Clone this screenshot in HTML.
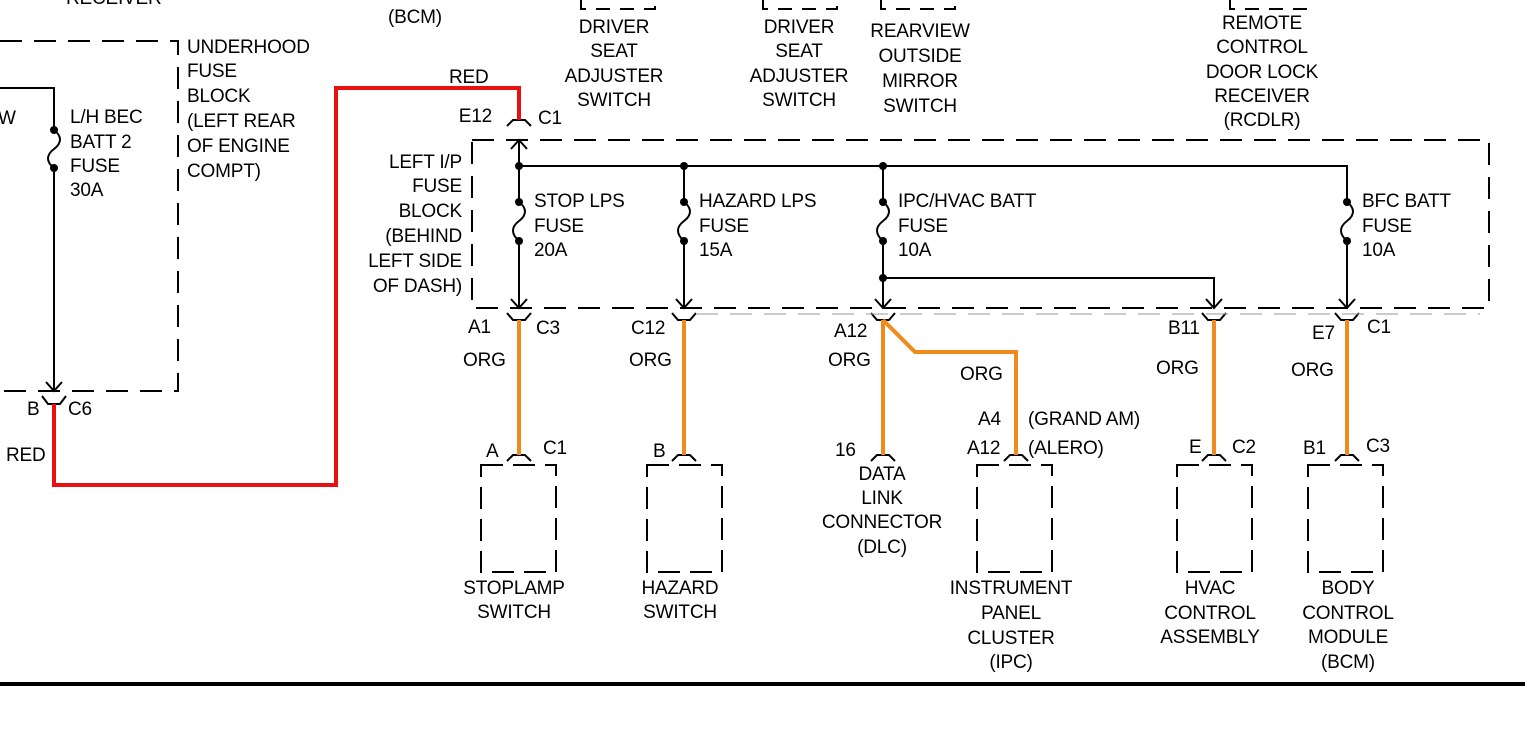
<!DOCTYPE html>
<html><head><meta charset="utf-8"><style>
html,body{margin:0;padding:0;background:#fff;}
svg{display:block;}
text{font-family:"Liberation Sans",Arial,sans-serif;font-size:19px;fill:#000;letter-spacing:-0.2px;}
.m{text-anchor:middle;}
.e{text-anchor:end;}
</style></head><body>
<svg width="1525" height="729" viewBox="0 0 1525 729" xmlns="http://www.w3.org/2000/svg">
<rect width="1525" height="729" fill="#fff"/>
<g fill="none" stroke="#000" stroke-width="2">
<g stroke-dasharray="14,10">
<path d="M581,0 V9 H655 V0"/>
<path d="M763,0 V9 H837 V0"/>
<path d="M881,0 V9 H955 V0"/>
<path d="M1230,0 V9 H1307 V0"/>
</g>
<path d="M0,41 H178 V391 H0" stroke-dasharray="22,12"/>
<rect x="472" y="140" width="1017" height="168" stroke-dasharray="22,12"/>
<g stroke-dasharray="22,10">
<rect x="481" y="465" width="75" height="107"/>
<rect x="647" y="465" width="75" height="107"/>
<rect x="977" y="465" width="75" height="107"/>
<rect x="1177" y="465" width="75" height="107"/>
<rect x="1308" y="465" width="75" height="107"/>
</g>
<path d="M0,88 H54 V130 M54,168 V390"/>
<path d="M54,130 C62,136 62,143 54,149 C46,155 46,162 54,168"/>
<path d="M46,382 L54,391 L62,382"/>
<path d="M42,396 L48,404 H60 L66,396"/>
<path d="M507,126 L513,120 H525 L531,126"/>
<path d="M519,140 V166 M511,149 L519,140 L527,149"/>
<path d="M519,166 H1347 V202"/>
<path d="M519,166 V202 M519,241 V307 M684,166 V202 M684,241 V307 M883,166 V202 M883,241 V307 M1347,241 V307"/>
<path d="M883,278 H1214 V307"/>
<g>
<path d="M519,202 C527,208 527,215 519,221 C511,227 511,234 519,241"/>
<path d="M684,202 C692,208 692,215 684,221 C676,227 676,234 684,241"/>
<path d="M883,202 C891,208 891,215 883,221 C875,227 875,234 883,241"/>
<path d="M1347,202 C1355,208 1355,215 1347,221 C1339,227 1339,234 1347,241"/>
</g>
<path d="M511,299 L519,308 L527,299 M676,299 L684,308 L692,299 M875,299 L883,308 L891,299 M1206,299 L1214,308 L1222,299 M1339,299 L1347,308 L1355,299"/>
<path d="M507,313 L513,320 H525 L531,313 M672,313 L678,320 H690 L696,313 M871,313 L877,320 H889 L895,313 M1202,313 L1208,320 H1220 L1226,313 M1335,313 L1341,320 H1353 L1359,313"/>
<path d="M696,314 H1480" stroke-width="1" stroke="#999" stroke-dasharray="22,12"/>
<path d="M507,461 L513,455 H525 L531,461 M672,461 L678,455 H690 L696,461 M871,461 L877,455 H889 L895,461 M1004,461 L1010,455 H1022 L1028,461 M1202,461 L1208,455 H1220 L1226,461 M1335,461 L1341,455 H1353 L1359,461"/>
</g>
<g fill="#000">
<circle cx="54" cy="130" r="4"/><circle cx="54" cy="168" r="4"/>
<circle cx="519" cy="166" r="4"/><circle cx="684" cy="166" r="4"/><circle cx="883" cy="166" r="4"/>
<circle cx="519" cy="202" r="4"/><circle cx="519" cy="241" r="4"/>
<circle cx="684" cy="202" r="4"/><circle cx="684" cy="241" r="4"/>
<circle cx="883" cy="202" r="4"/><circle cx="883" cy="241" r="4"/>
<circle cx="1347" cy="202" r="4"/><circle cx="1347" cy="241" r="4"/>
<circle cx="883" cy="278" r="4"/>
</g>
<path d="M54,404 V485 H336 V88 H519 V120" fill="none" stroke="#e81010" stroke-width="4"/>
<g fill="none" stroke="#f08a1c" stroke-width="4">
<path d="M519,320 V455 M684,320 V455 M883,320 V455 M1214,320 V455 M1347,320 V455"/>
<path d="M883,320 L915,352 H1016 V455"/>
</g>
<rect x="0" y="682" width="1525" height="4" fill="#000"/>
<text x="66" y="4">RECEIVER</text>
<text x="415" y="23" class="m">(BCM)</text>
<text x="614" y="33" class="m">DRIVER</text><text x="614" y="57" class="m">SEAT</text><text x="614" y="82" class="m">ADJUSTER</text><text x="614" y="106" class="m">SWITCH</text>
<text x="799" y="33" class="m">DRIVER</text><text x="799" y="57" class="m">SEAT</text><text x="799" y="82" class="m">ADJUSTER</text><text x="799" y="106" class="m">SWITCH</text>
<text x="920" y="37" class="m">REARVIEW</text><text x="920" y="62" class="m">OUTSIDE</text><text x="920" y="87" class="m">MIRROR</text><text x="920" y="112" class="m">SWITCH</text>
<text x="1262" y="29" class="m">REMOTE</text><text x="1262" y="53" class="m">CONTROL</text><text x="1262" y="78" class="m">DOOR LOCK</text><text x="1262" y="102" class="m">RECEIVER</text><text x="1262" y="126" class="m">(RCDLR)</text>
<text x="187" y="53">UNDERHOOD</text><text x="187" y="77">FUSE</text><text x="187" y="102">BLOCK</text><text x="187" y="127">(LEFT REAR</text><text x="187" y="152">OF ENGINE</text><text x="187" y="177">COMPT)</text>
<text x="-2" y="124">W</text>
<text x="70" y="123">L/H BEC</text><text x="70" y="148">BATT 2</text><text x="70" y="172">FUSE</text><text x="70" y="196">30A</text>
<text x="449" y="83">RED</text>
<text x="492" y="122" class="e">E12</text><text x="538" y="124">C1</text>
<text x="462" y="168" class="e">LEFT I/P</text><text x="462" y="192" class="e">FUSE</text><text x="462" y="217" class="e">BLOCK</text><text x="462" y="242" class="e">(BEHIND</text><text x="462" y="267" class="e">LEFT SIDE</text><text x="462" y="292" class="e">OF DASH)</text>
<text x="534" y="207">STOP LPS</text><text x="534" y="232">FUSE</text><text x="534" y="256">20A</text>
<text x="699" y="207">HAZARD LPS</text><text x="699" y="232">FUSE</text><text x="699" y="256">15A</text>
<text x="898" y="207">IPC/HVAC BATT</text><text x="898" y="232">FUSE</text><text x="898" y="256">10A</text>
<text x="1362" y="207">BFC BATT</text><text x="1362" y="232">FUSE</text><text x="1362" y="256">10A</text>
<text x="27" y="415">B</text><text x="68" y="415">C6</text>
<text x="6" y="461">RED</text>
<text x="468" y="333">A1</text><text x="536" y="334">C3</text>
<text x="463" y="366">ORG</text>
<text x="631" y="334">C12</text><text x="629" y="366">ORG</text>
<text x="834" y="337">A12</text><text x="828" y="366">ORG</text>
<text x="960" y="380">ORG</text>
<text x="1168" y="334">B11</text><text x="1156" y="374">ORG</text>
<text x="1312" y="339">E7</text><text x="1367" y="333">C1</text><text x="1291" y="376">ORG</text>
<text x="486" y="457">A</text><text x="543" y="454">C1</text>
<text x="653" y="457">B</text>
<text x="835" y="456">16</text>
<text x="978" y="425">A4</text><text x="1028" y="425">(GRAND AM)</text>
<text x="967" y="454">A12</text><text x="1028" y="454">(ALERO)</text>
<text x="1189" y="453">E</text><text x="1232" y="453">C2</text>
<text x="1303" y="454">B1</text><text x="1366" y="452">C3</text>
<text x="882" y="480" class="m">DATA</text><text x="882" y="504" class="m">LINK</text><text x="882" y="528" class="m">CONNECTOR</text><text x="882" y="553" class="m">(DLC)</text>
<text x="514" y="594" class="m">STOPLAMP</text><text x="514" y="618" class="m">SWITCH</text>
<text x="680" y="594" class="m">HAZARD</text><text x="680" y="618" class="m">SWITCH</text>
<text x="1011" y="594" class="m">INSTRUMENT</text><text x="1011" y="619" class="m">PANEL</text><text x="1011" y="644" class="m">CLUSTER</text><text x="1011" y="668" class="m">(IPC)</text>
<text x="1210" y="594" class="m">HVAC</text><text x="1210" y="619" class="m">CONTROL</text><text x="1210" y="643" class="m">ASSEMBLY</text>
<text x="1348" y="594" class="m">BODY</text><text x="1348" y="619" class="m">CONTROL</text><text x="1348" y="643" class="m">MODULE</text><text x="1348" y="668" class="m">(BCM)</text>
</svg>
</body></html>
